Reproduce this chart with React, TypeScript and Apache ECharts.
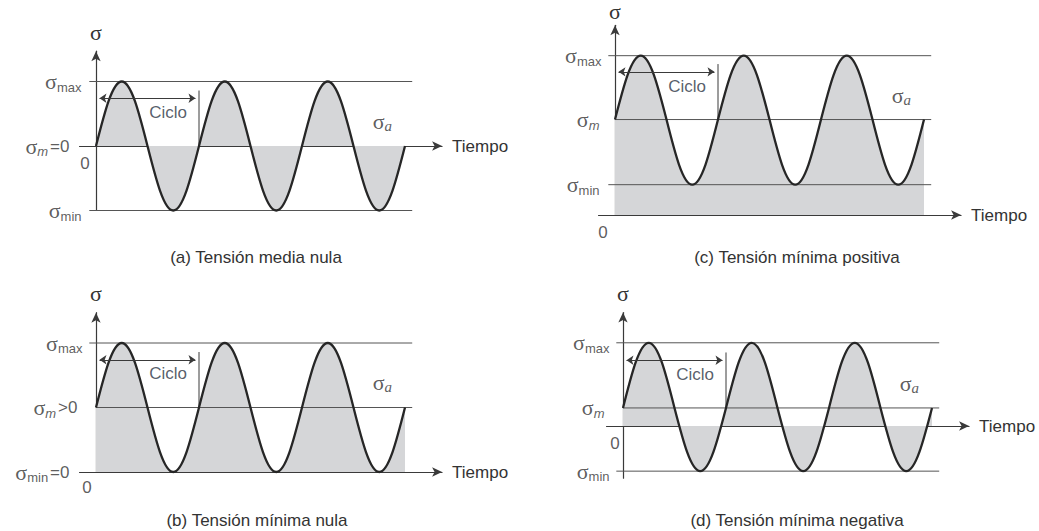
import React, { useEffect, useRef } from "react";
import * as echarts from "echarts";

// ---- data ----
// time in cycles: wave key points every quarter cycle (crossing, peak, crossing, trough, ...)
const quarterTimes = [0, 0.25, 0.5, 0.75, 1, 1.25, 1.5, 1.75, 2, 2.25, 2.5, 2.75, 3];

// (a) Tensión media nula
const waveA = [0, 1, 0, -1, 0, 1, 0, -1, 0, 1, 0, -1, 0];
// (b) Tensión mínima nula
const waveB = [1, 2, 1, 0, 1, 2, 1, 0, 1, 2, 1, 0, 1];
// (c) Tensión mínima positiva
const waveC = [1.48, 2.47, 1.48, 0.47, 1.48, 2.47, 1.48, 0.47, 1.48, 2.47, 1.48, 0.47, 1.48];
// (d) Tensión mínima negativa
const waveD = [0.28, 1.29, 0.28, -0.7, 0.28, 1.29, 0.28, -0.7, 0.28, 1.29, 0.28, -0.7, 0.28];

const sigmaMax = [1, 2, 2.47, 1.29];
const sigmaMean = [0, 1, 1.48, 0.28];
const sigmaMin = [-1, 0, 0.47, -0.7];
const meanSuffix = ["=0", ">0", "", ""];
const minSuffix = ["", "=0", "", ""];
const captions = [
  "(a) Tensión media nula",
  "(b) Tensión mínima nula",
  "(c) Tensión mínima positiva",
  "(d) Tensión mínima negativa",
];
const waves = [waveA, waveB, waveC, waveD];

// ---- layout / style ----
const PX_T = 103; // px per cycle
const PX_V = 64.5; // px per stress unit
const X_MIN = -0.16;
const X_MAX = 3.36;
const ARROW_HEAD = 0.47;
const LINE_START = -0.065;
const LINE_END = 3.07;

const layout = [
  { x0: 96, y0: 146, yMin: -1, capX: 256, capY: 257, zeroOff: [-11, 17], gaps: [14, 26, 14], nameGap: 8 },
  { x0: 96, y0: 472, yMin: 0, capX: 257, capY: 520, zeroOff: [-9, 15], gaps: [13, 18, 26], nameGap: 8 },
  { x0: 615, y0: 215, yMin: 0, capX: 797, capY: 257, zeroOff: [-12, 17], gaps: [13, 15, 15], nameGap: 3 },
  { x0: 623, y0: 426, yMin: -0.81, capX: 797, capY: 520, zeroOff: [-8, 17], gaps: [13, 18, 13], nameGap: 8 },
];

const SANS = '"Liberation Sans", Arial, Helvetica, sans-serif';
const SERIF = '"Liberation Serif", "DejaVu Serif", serif';
const TEXT = "#333333";
const AXIS = "#3a3a3a";
const LEVEL = "#555555";
const WAVE = "#262626";
const FILL = "#d5d6d8";

// cubic Bezier shape of a quarter sine wave (normalised control points)
const K1 = 0.331;
const K2 = 0.6366;
const KY = 0.52;

function wavePath(p: number[][]): string {
  let d = `M${p[0][0]},${p[0][1]}`;
  for (let k = 1; k < p.length; k++) {
    const a = p[k - 1];
    const b = p[k];
    const dx = b[0] - a[0];
    const fromCrossing = (k - 1) % 2 === 0;
    let c1: number[];
    let c2: number[];
    if (fromCrossing) {
      c1 = [a[0] + K1 * dx, a[1] + KY * (b[1] - a[1])];
      c2 = [a[0] + K2 * dx, b[1]];
    } else {
      c1 = [a[0] + (1 - K2) * dx, a[1]];
      c2 = [a[0] + (1 - K1) * dx, b[1] + KY * (a[1] - b[1])];
    }
    d += ` C${c1[0]},${c1[1]} ${c2[0]},${c2[1]} ${b[0]},${b[1]}`;
  }
  return d;
}

const rich = {
  s: { fontFamily: SERIF, fontSize: 22, lineHeight: 24, color: TEXT },
  sub: { fontFamily: SANS, fontSize: 13, lineHeight: 13, verticalAlign: "bottom", color: TEXT },
  subI: { fontFamily: SANS, fontSize: 13, lineHeight: 13, verticalAlign: "bottom", fontStyle: "italic", color: TEXT },
  subA: { fontFamily: SERIF, fontSize: 15, lineHeight: 11, verticalAlign: "bottom", fontStyle: "italic", color: TEXT },
  eq: { fontFamily: SANS, fontSize: 17, lineHeight: 24, color: TEXT, padding: [0, 0, 0, 2] },
};

function buildOption() {
  const grid: any[] = [];
  const xAxis: any[] = [];
  const yAxis: any[] = [];
  const series: any[] = [];
  const graphic: any[] = [];

  layout.forEach((L, i) => {
    const yMax = sigmaMax[i] + ARROW_HEAD;
    grid.push({
      left: L.x0 + X_MIN * PX_T,
      top: L.y0 - yMax * PX_V,
      width: (X_MAX - X_MIN) * PX_T,
      height: (yMax - L.yMin) * PX_V,
      containLabel: false,
      outerBoundsMode: "none",
    });
    xAxis.push({
      type: "value",
      gridIndex: i,
      min: X_MIN,
      max: X_MAX,
      axisLine: { onZero: true, symbol: ["none", "arrow"], symbolSize: [7, 10], lineStyle: { color: AXIS, width: 1.2 } },
      axisTick: { show: false },
      axisLabel: { show: false },
      splitLine: { show: false },
      name: "Tiempo",
      nameLocation: "end",
      nameGap: 10,
      nameTextStyle: { fontFamily: SANS, fontSize: 17, color: TEXT },
    });
    yAxis.push({
      type: "value",
      gridIndex: i,
      min: L.yMin,
      max: yMax,
      axisLine: { onZero: true, symbol: ["none", "arrow"], symbolSize: [7, 10], lineStyle: { color: AXIS, width: 1.2 } },
      axisTick: { show: false },
      axisLabel: { show: false },
      splitLine: { show: false },
      name: "σ",
      nameLocation: "end",
      nameGap: L.nameGap,
      nameTextStyle: { fontFamily: SERIF, fontSize: 22, color: TEXT },
    });

    const pts = waves[i].map((v, k) => [quarterTimes[k], v]);
    const m = sigmaMean[i];
    const base = { xAxisIndex: i, yAxisIndex: i, silent: true, animation: false };

    // filled area between the wave and zero (custom series, mapped through the axes)
    series.push({
      ...base,
      type: "custom",
      clip: false,
      data: pts,
      z: 1,
      renderItem: (params: any, api: any) => {
        if (params.dataIndex !== 0) return null;
        const p = pts.map((q) => api.coord(q));
        const zeroY = api.coord([0, 0])[1];
        const d =
          wavePath(p) + ` L${p[p.length - 1][0]},${zeroY} L${p[0][0]},${zeroY} Z`;
        return { type: "path", shape: { pathData: d }, style: { fill: FILL, stroke: null } };
      },
    });

    // level lines
    const levelLine = (v: number, start: number) => ({
      ...base,
      type: "line",
      data: [
        [start, v],
        [LINE_END, v],
      ],
      symbol: "none",
      clip: false,
      lineStyle: { color: LEVEL, width: 1 },
      z: 2,
    });
    series.push(levelLine(sigmaMax[i], LINE_START));
    if (sigmaMean[i] !== 0) series.push(levelLine(sigmaMean[i], 0));
    if (sigmaMin[i] !== 0) series.push(levelLine(sigmaMin[i], LINE_START));

    // cycle marker: vertical tick + double arrow
    series.push({
      ...base,
      type: "line",
      data: [
        [1, m + 0.86],
        [1, m],
      ],
      symbol: "none",
      lineStyle: { color: AXIS, width: 1 },
      z: 2,
      markLine: {
        silent: true,
        animation: false,
        symbol: ["arrow", "arrow"],
        symbolSize: 7,
        label: { show: false },
        lineStyle: { color: AXIS, width: 1, type: "solid" },
        data: [[{ coord: [0.034, m + 0.74] }, { coord: [0.966, m + 0.74] }]],
      },
    });

    // the wave
    series.push({
      ...base,
      type: "custom",
      clip: false,
      data: pts,
      z: 3,
      renderItem: (params: any, api: any) => {
        if (params.dataIndex !== 0) return null;
        const p = pts.map((q) => api.coord(q));
        return {
          type: "path",
          shape: { pathData: wavePath(p) },
          style: { fill: null, stroke: WAVE, lineWidth: 2.3 },
        };
      },
    });

    // texts
    const lbl = (value: number[], label: any) => ({
      value,
      label: { show: true, rich, color: TEXT, fontFamily: SANS, fontSize: 17, ...label },
    });
    series.push({
      ...base,
      type: "scatter",
      symbolSize: 1,
      itemStyle: { color: "rgba(0,0,0,0)" },
      z: 4,
      data: [
        lbl([0, sigmaMax[i]], { position: "left", distance: L.gaps[0], formatter: "{s|σ}{sub|max}" }),
        lbl([0, m], {
          position: "left",
          distance: L.gaps[1],
          formatter: "{s|σ}{subI|m}" + (meanSuffix[i] ? `{eq|${meanSuffix[i]}}` : ""),
        }),
        lbl([0, sigmaMin[i]], {
          position: "left",
          distance: L.gaps[2],
          formatter: "{s|σ}{sub|min}" + (minSuffix[i] ? `{eq|${minSuffix[i]}}` : ""),
        }),
        lbl([0, 0], { position: "inside", offset: L.zeroOff, formatter: "0" }),
        lbl([0.7, m + 0.52], { position: "inside", formatter: "Ciclo", color: "#2c3444" }),
        lbl([2.78, m + 0.38], { position: "inside", formatter: "{s|σ}{subA|a}" }),
      ],
    });

    graphic.push({
      type: "text",
      x: L.capX,
      y: L.capY,
      silent: true,
      style: {
        text: captions[i],
        fill: TEXT,
        fontFamily: SANS,
        fontSize: 17,
        align: "center",
        verticalAlign: "middle",
      },
    });
  });

  return {
    animation: false,
    backgroundColor: "#ffffff",
    grid,
    xAxis,
    yAxis,
    series,
    graphic,
  };
}

export default function App() {
  const ref = useRef<HTMLDivElement>(null);
  useEffect(() => {
    const chart = echarts.init(ref.current!, null, { renderer: "svg" });
    chart.setOption(buildOption() as any);
    return () => chart.dispose();
  }, []);
  return (
    <div
      ref={ref}
      style={{ position: "absolute", left: 0, top: 0, width: 1039, height: 531, background: "#fff" }}
    />
  );
}
